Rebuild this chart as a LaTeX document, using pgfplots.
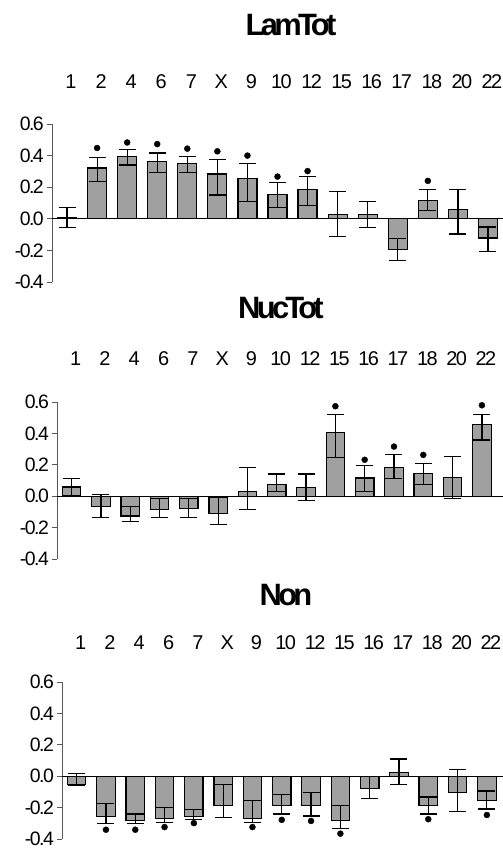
\documentclass[border=0pt]{standalone}
\usepackage{fontspec}
\setmainfont{Liberation Sans}
\newfontfamily\labfont[LetterSpace=-8]{Liberation Sans}
\newfontfamily\titlefont[LetterSpace=-12]{Liberation Sans}
\usepackage{pgfplots}
\usepackage{pgfplotstable}
\pgfplotsset{compat=1.18}
\definecolor{barfill}{RGB}{160,160,160}

% x = category index, y = bar, ep/em = error up/down
\pgfplotstableread{
x y ep em
0 0.006 0.063 0.062
1 0.321 0.069 0.083
2 0.392 0.046 0.052
3 0.365 0.052 0.073
4 0.350 0.042 0.056
5 0.283 0.092 0.133
6 0.254 0.096 0.144
7 0.156 0.073 0.083
8 0.183 0.086 0.098
9 0.029 0.144 0.139
10 0.029 0.083 0.083
11 -0.192 0.069 0.073
12 0.117 0.068 0.067
13 0.060 0.125 0.156
14 -0.121 0.069 0.085
}\lamtot
\pgfplotstableread{
x y
1 0.448
2 0.483
3 0.473
4 0.444
5 0.427
6 0.400
7 0.267
8 0.302
12 0.240
}\lamdots

\pgfplotstableread{
x y ep em
0 0.059 0.053 0.054
1 -0.067 0.080 0.070
2 -0.126 0.059 0.036
3 -0.084 0.071 0.053
4 -0.080 0.067 0.057
5 -0.110 0.100 0.069
6 0.029 0.154 0.113
7 0.072 0.069 0.042
8 0.057 0.084 0.082
9 0.404 0.118 0.156
10 0.116 0.078 0.086
11 0.185 0.080 0.073
12 0.143 0.067 0.071
13 0.118 0.135 0.131
14 0.459 0.063 0.101
}\nuctot
\pgfplotstableread{
x y
9 0.573
10 0.232
11 0.316
12 0.263
14 0.579
}\nucdots

\pgfplotstableread{
x y ep em
0 -0.054 0.069 0.005
1 -0.257 0.083 0.046
2 -0.282 0.041 0.021
3 -0.268 0.069 0.025
4 -0.257 0.046 0.021
5 -0.186 0.134 0.078
6 -0.268 0.111 0.027
7 -0.186 0.069 0.055
8 -0.186 0.081 0.067
9 -0.282 0.096 0.049
10 -0.079 0.079 0.063
11 0.025 0.084 0.077
12 -0.186 0.054 0.055
13 -0.105 0.147 0.119
14 -0.157 0.063 0.052
}\non
\pgfplotstableread{
x y
1 -0.341
2 -0.341
3 -0.324
4 -0.299
6 -0.324
7 -0.278
8 -0.285
9 -0.366
12 -0.274
14 -0.247
}\nondots

\pgfplotsset{
  panel/.style={
    scale only axis, anchor=south west,
    xmin=-0.5, ymin=-0.4, ymax=0.6,
    axis y line*=left, axis x line*=top,
    axis line style={-},
    x axis line style={draw=none},
    y axis line style={draw=gray!70!black, line width=0.8bp},
    xtick={0,...,14},
    xticklabels={1,2,4,6,7,X,9,10,12,15,16,17,18,20,22},
    xtick style={draw=none},
    ytick={-0.4,-0.2,0,0.2,0.4,0.6},
    yticklabels={-0.4,-0.2,0.0,0.2,0.4,0.6},
    tick align=outside, major tick length=5bp,
    ytick style={draw=gray!70!black, line width=0.8bp},
    yticklabel style={font=\labfont\fontsize{19.5}{19.5}\selectfont, inner sep=3bp},
    xticklabel style={font=\labfont\fontsize{20}{20}\selectfont, anchor=base, xshift=4bp},
    clip=false,
  },
  bars/.style={ybar, bar width=0.63, fill=barfill, draw=black, line width=1.2bp,
    error bars/.cd, y dir=both, y explicit,
    error bar style={line width=1.2bp, black},
    error mark options={rotate=90, black, line width=1.2bp, mark size=8.5bp}},
  dots/.style={only marks, mark=*, mark size=3bp, black},
}

\begin{document}
\begin{tikzpicture}
\path[use as bounding box] (0,0) rectangle (503bp,851bp);

\begin{axis}[panel, at={(52bp,569bp)}, width=451bp, height=158bp, xmax=14.5,
  xticklabel style={yshift=30bp}]
\addplot[bars] table[x=x, y=y, y error plus=ep, y error minus=em] {\lamtot};
\addplot[black, line width=1bp] coordinates {(-0.5,0) (14.5,0)};
\addplot[dots] table[x=x, y=y] {\lamdots};
\end{axis}

\begin{axis}[panel, at={(57bp,292bp)}, width=446bp, height=157bp, xmax=14.72,
  xticklabel style={yshift=31bp}]
\addplot[bars] table[x=x, y=y, y error plus=ep, y error minus=em] {\nuctot};
\addplot[black, line width=1bp] coordinates {(-0.5,0) (14.72,0)};
\addplot[dots] table[x=x, y=y] {\nucdots};
\end{axis}

\begin{axis}[panel, at={(62bp,12bp)}, width=441bp, height=157bp, xmax=14.55,
  xticklabel style={yshift=27bp}]
\addplot[bars] table[x=x, y=y, y error plus=ep, y error minus=em] {\non};
\addplot[black, line width=1bp] coordinates {(-0.5,0) (14.55,0)};
\addplot[dots] table[x=x, y=y] {\nondots};
\end{axis}

\node[font=\titlefont\bfseries\fontsize{31}{31}\selectfont] at (291bp,826bp) {LamTot};
\node[font=\titlefont\bfseries\fontsize{31}{31}\selectfont] at (281bp,543bp) {NucTot};
\node[font=\titlefont\bfseries\fontsize{31}{31}\selectfont] at (286bp,256bp) {Non};
\end{tikzpicture}
\end{document}
